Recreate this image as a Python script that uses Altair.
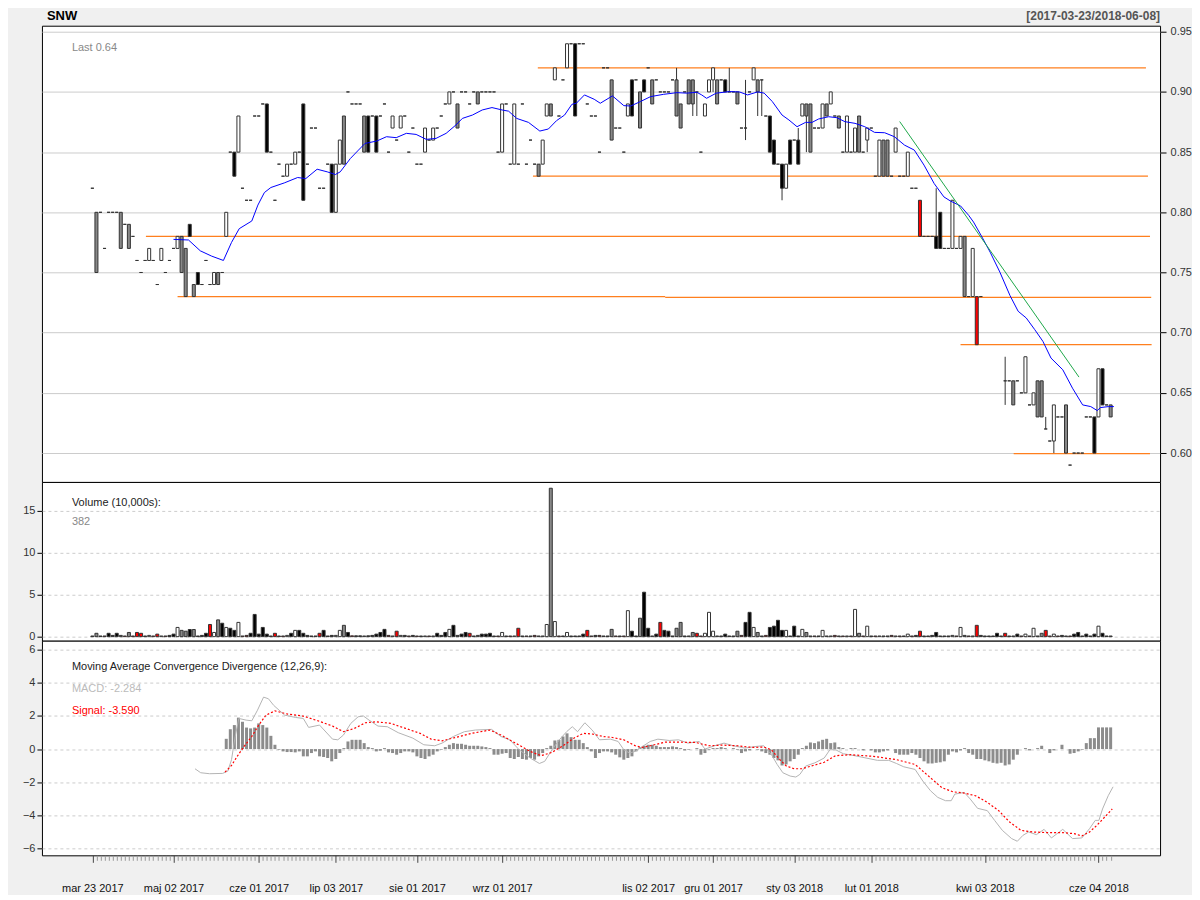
import altair as alt
import pandas as pd

# ---------------- data ----------------
# price bars: scalar = one-price day (O=H=L=C); tuple = (open, high, low, close); None = no price
bars = [
    .82, (.75,.80,.75,.80), .80, .77, .80, .80, .80, (.77,.80,.77,.80), .79, (.77,.79,.77,.79),
    .78, .76, .75, .76, (.76,.77,.76,.77), .76, .74, (.76,.77,.76,.77), .75, .76,
    .77, (.77,.78,.77,.78), (.75,.78,.75,.78), (.73,.77,.73,.77), (.79,.79,.78,.78), (.73,.74,.73,.74), (.75,.75,.74,.74), .74, .76, .74,
    (.74,.75,.74,.75), (.74,.75,.74,.75), .75, (.78,.80,.78,.80), .85, (.85,.85,.83,.83), (.85,.88,.85,.88), .82, .81, .81,
    .88, .88, .89, (.89,.89,.85,.85), .85, .81, .84, .83, (.83,.84,.83,.84), .84,
    (.84,.85,.84,.85), .85, (.89,.89,.81,.81), .84, .87, .87, .82, .82, .84, (.84,.84,.80,.80),
    (.80,.84,.80,.84), (.84,.86,.84,.86), (.84,.88,.84,.88), .90, .89, .89, .89, (.85,.88,.85,.88), (.88,.88,.85,.85), .88,
    (.88,.88,.85,.85), .88, .89, .85, (.87,.88,.87,.88), .86, (.87,.88,.87,.88), .88, .85, .87,
    .84, .84, (.85,.87,.85,.87), .86, (.86,.87,.86,.87), .87, .88, .89, (.89,.90,.89,.90), .90,
    (.87,.89,.87,.89), .90, .90, .89, .90, (.89,.90,.89,.90), .90, .90, .90, .90,
    .85, (.85,.89,.85,.89), .89, .84, (.84,.89,.84,.89), .84, .89, .84, .86, .84,
    (.83,.84,.83,.84), (.84,.86,.84,.86), (.88,.89,.88,.89), (.88,.89,.88,.89), (.91,.92,.91,.92), .88, .91, (.92,.94,.92,.94), .94, (.94,.94,.88,.88),
    .94, .94, .89, .88, .88, .85, .92, .92, (.86,.91,.86,.91), .87,
    .87, .85, (.88,.89,.88,.89), (.91,.91,.88,.88), .91, (.87,.90,.87,.90), (.91,.91,.90,.90), .92, (.89,.91,.89,.91), .91,
    .90, .90, .90, .91, (.88,.92,.88,.91), (.87,.89,.87,.89), .90, (.89,.91,.89,.91), (.89,.91,.88,.91), (.90,.90,.88,.90),
    .85, (.88,.89,.88,.89), (.90,.91,.90,.91), (.91,.92,.90,.92), (.89,.91,.89,.91), .91, (.91,.91,.90,.90), (.90,.92,.90,.90), .90, (.89,.90,.89,.90),
    .87, (.87,.91,.86,.87), .90, (.91,.92,.91,.92), (.90,.91,.88,.91), (.91,.91,.88,.91), .88, (.88,.88,.85,.85), (.86,.86,.84,.84), .84,
    (.84,.84,.81,.82), (.82,.84,.82,.84), (.86,.86,.84,.84), .86, (.86,.87,.84,.84), (.88,.89,.88,.89), (.88,.89,.85,.89), (.85,.89,.85,.89), .87, .87,
    (.87,.89,.87,.89), (.88,.89,.88,.89), (.89,.90,.89,.90), .88, (.87,.88,.87,.88), .85, (.85,.88,.85,.88), .85, (.85,.87,.85,.87), (.85,.88,.85,.88),
    .85, (.86,.87,.85,.87), .87, .83, (.83,.86,.83,.86), (.83,.86,.83,.86), (.83,.86,.83,.86), .83, (.85,.87,.85,.87), .83,
    .83, (.83,.85,.83,.85), .82, .82, (.81,.81,.78,.78), .78, .78, .78, (.78,.82,.77,.77), (.80,.80,.77,.77),
    .77, .77, (.77,.81,.77,.81), .77, (.77,.78,.77,.78), (.73,.78,.73,.78), .73, (.73,.77,.73,.77), (.73,.73,.69,.69), .73,
    None, None, None, None, None, (.66,.68,.64,.66), .66, (.64,.66,.64,.66), .66, .65,
    (.65,.68,.65,.68), .64, (.64,.65,.64,.65), (.63,.66,.63,.66), (.63,.66,.63,.66), (.62,.63,.62,.62), .61, (.61,.64,.60,.64), .63, .63,
    (.60,.64,.60,.64), .59, .60, .60, .60, .63, .63, (.63,.63,.60,.60), (.63,.67,.63,.67), (.67,.67,.64,.64),
    .64, (.63,.64,.63,.64),
]

# volume in 10,000s
volume = [
    .08,.4,.08,.08,.4,.15,.4,.15,.08,.5,
    .08,.5,.4,.08,.15,.08,.3,.08,.08,.15,
    .3,1.1,.75,.65,.85,.85,.08,.15,.4,1.45,
    .5,2.0,1.6,1.1,1.0,.75,1.7,.08,.15,.4,
    2.65,.3,1.1,.3,.08,.4,.08,.08,.15,.4,
    .75,.75,.4,.15,.08,.08,.4,.75,.08,.15,
    .15,.75,1.35,.5,.1,.1,.1,.08,.1,.15,
    .3,.5,.87,.15,.08,.65,.15,.15,.08,.15,
    .08,.08,.08,.08,.08,.4,.15,.5,.87,1.35,
    .15,.3,.5,.4,.08,.15,.3,.3,.4,.08,
    .08,.5,.08,.08,.08,1.0,.08,.08,.08,.15,
    .08,.08,1.45,17.7,1.8,.08,.08,.5,.08,.08,
    .08,.3,.75,.08,.15,.15,.08,.08,.87,.08,
    .08,.08,3.1,.65,.08,2.2,5.3,1.0,.08,.3,
    1.7,.75,.65,.08,1.0,1.7,.08,.08,.5,.4,
    .08,.4,2.9,.65,.08,.08,.3,.08,.08,.65,
    .15,1.7,2.9,1.1,.5,.08,.15,1.1,1.25,1.95,
    .75,.75,.08,1.25,.08,.87,.5,.08,.08,.08,
    .75,.08,.08,.15,.08,.08,.08,.08,3.25,.4,
    .08,1.25,.08,.08,.08,.08,.08,.15,.08,.08,
    .08,.3,.08,.15,.65,.08,.08,.15,.5,.08,
    .08,.08,.15,.08,1.1,.15,.08,.08,1.35,.15,
    .08,.08,.08,.4,.08,.4,.08,.08,.3,.08,
    .3,.08,1.0,.08,.4,.75,.08,.3,.08,.15,
    .08,.08,.3,.5,.08,.3,.08,.3,1.25,.4,
    .08,.08,
]

# 20-day moving average (blue), read as (bar index, value)
sma_pts = [
    (20,0.7775),(23.7,0.777),(26.6,0.768),(29.4,0.7636),(32.3,0.76),(34.3,0.775),(36.2,0.7864),(39.3,0.7928),
    (40.8,0.806),(42.4,0.8164),(44,0.8206),(47.3,0.8244),(50.6,0.8289),(52.6,0.828),(55.4,0.8358),(57.9,0.8336),
    (59.9,0.8314),(61.1,0.8336),(63.6,0.8447),(65.6,0.8517),(67.2,0.8572),(70.1,0.8592),(72.5,0.8628),(74.9,0.862),
    (77.4,0.8656),(79.8,0.8647),(82.3,0.8606),(84.7,0.8614),(87.2,0.8656),(89.6,0.8725),(91.2,0.878),(93.7,0.8808),
    (96.1,0.885),(98.5,0.887),(101,0.885),(102.6,0.884),(104.6,0.878),(107.5,0.8747),(110.3,0.8675),(112.4,0.8692),
    (114.4,0.8761),(116.4,0.8808),(118.2,0.8897),(119.3,0.8906),(121.3,0.8975),(123.7,0.8939),(125.2,0.8906),(128.2,0.8967),
    (131,0.8886),(132.7,0.8883),(135.1,0.892),(137.6,0.8961),(140.8,0.898),(144.1,0.8994),(146.5,0.899),(149,0.8997),
    (150.2,0.8975),(151.4,0.8947),(153.8,0.899),(157.1,0.9003),(159.5,0.9),(161.5,0.8975),(164,0.9),(165.6,0.899),
    (167.6,0.892),(170,0.8808),(171.7,0.8767),(173.7,0.8711),(175.8,0.8747),(177.4,0.8747),(179,0.8775),(181.5,0.8794),
    (183.5,0.8786),(185.5,0.8753),(188,0.8739),(190.4,0.8711),(192.8,0.8664),(195.3,0.8661),(197.7,0.8628),(200.2,0.8558),
    (202.6,0.8517),(205,0.8392),(207.5,0.8239),(209.9,0.8128),(211.5,0.8094),(214,0.8053),(216,0.7975),(217.2,0.7919),
    (219.3,0.7794),(221.3,0.7669),(223.7,0.7503),(226.2,0.7308),(228.2,0.7178),(230.2,0.7122),(232.3,0.7025),(234.3,0.6928),
    (236.3,0.6789),(239.2,0.6692),(241.6,0.6539),(244.1,0.64),(246.1,0.6386),(247.7,0.6353),(248.5,0.6378),(250.5,0.6386),
    (251.8,0.6386),
]

# MACD line (grey) and signal (red dotted), read as (bar index, value)
macd_pts = [
    (25.3,-1.19),(26.7,-1.43),(28.9,-1.49),(32.1,-1.47),(33.4,-1.33),(34.3,-0.64),(35.2,0.76),(36.1,1.85),(37.9,1.75),
    (39.3,1.71),(40.7,2.35),(42.2,3.14),(43.4,3.04),(44.7,2.64),(47.4,2.05),(50.1,1.91),(52,1.85),(53.3,1.31),(56,1.45),
    (59.2,0.6),(60.5,0.56),(61.9,0.85),(63.7,1.55),(65.5,1.95),(66.8,2.0),(68.2,1.75),(70.4,1.39),(72.7,1.35),(75.4,0.99),
    (79,0.66),(81.7,0.26),(84.4,0.2),(86.2,0.36),(89,0.76),(91.7,1.05),(94.4,1.15),(98.4,1.19),(100.7,0.76),(102.9,0.56),
    (105.2,-0.04),(107.9,-0.54),(110.2,-0.87),(111.5,-0.74),(113.3,-0.04),(115.1,0.56),(116.9,1.05),(118.3,1.35),(119.6,1.05),
    (121.4,1.59),(123.2,1.15),(125,0.56),(127.7,0.6),(129.6,0.46),(131,-0.04),(132.4,-0.24),(133.8,-0.14),(135.6,0.16),
    (137.5,0.46),(139.4,0.6),(142.2,0.52),(144.5,0.56),(146.8,0.36),(149.6,0.46),(151,0),(153.4,0.2),(155.7,0.36),(158,0.2),
    (160.8,0.06),(163.6,0.16),(165.5,0.2),(167.4,-0.34),(168.8,-0.93),(170.2,-1.43),(172,-1.63),(173.4,-1.69),(174.4,-1.53),
    (175.8,-1.03),(178.1,-0.83),(180.4,-0.54),(181.8,-0.04),(183.2,-0.04),(185.1,-0.28),(187.9,-0.4),(190.7,-0.54),
    (193.5,-0.68),(196.3,-0.68),(198.2,-0.87),(200,-1.07),(202.8,-1.23),(204.7,-1.93),(206.6,-2.52),(208.4,-2.92),
    (210.3,-3.12),(211.7,-3.12),(212.6,-2.72),(214.9,-2.62),(216.4,-3.02),(218.2,-3.58),(220.6,-3.72),(222.4,-4.31),
    (224.3,-4.91),(226.6,-5.41),(228,-5.57),(229.4,-5.21),(230.8,-5.01),(232.7,-5.17),(234.6,-4.85),(236.4,-5.37),
    (239.2,-4.85),(241.6,-5.41),(243.9,-5.37),(245.8,-4.81),(247.2,-4.31),(248.1,-4.31),(249,-3.62),(250.4,-2.82),(251.6,-2.28),
]
signal_pts = [
    (32.7,-1.39),(34.3,-0.99),(35.7,-0.44),(37.4,0.16),(39.3,0.76),(41,1.45),(42.8,2.05),(45,2.31),(48.2,2.11),(52,1.99),
    (55.6,1.71),(59.2,1.39),(61.9,1.05),(64.6,1.25),(67.3,1.59),(70,1.65),(73.6,1.55),(77.2,1.25),(80.8,0.95),(83.5,0.6),
    (86.2,0.5),(89.8,0.72),(93.5,0.95),(98,1.15),(100.7,0.85),(104.3,0.36),(107.9,-0.14),(110.6,-0.4),(113.3,-0.2),(116,0.2),
    (118.7,0.66),(121,0.95),(123.2,0.91),(125.9,0.76),(128.2,0.70),(131,0.56),(133.8,0.2),(135.6,0.1),(137.5,0.2),(141.2,0.42),
    (144,0.42),(148.7,0.4),(152,0.2),(155.2,0.24),(159,0.2),(162.7,0.1),(165.5,0.12),(167.4,-0.04),(169.3,-0.6),(171.1,-1.03),
    (173,-1.19),(174.9,-1.19),(177.7,-0.99),(180.4,-0.8),(183.2,-0.4),(186.9,-0.34),(192.5,-0.44),(198.2,-0.64),(202.8,-0.93),
    (204.7,-1.33),(207.5,-1.93),(209.4,-2.33),(212.1,-2.58),(214.9,-2.66),(217.7,-2.82),(220.6,-3.22),(223.4,-3.72),
    (226.1,-4.41),(228.9,-4.91),(231.8,-5.01),(235.5,-5.05),(239.2,-5.05),(242,-5.11),(243.9,-5.25),(245.8,-5.01),
    (247.6,-4.61),(249.5,-4.12),(251.4,-3.62),
]

# MACD histogram, one value per bar starting at bar 33
hist_start = 33
hist = [
    .62,1.2,1.45,1.9,1.65,1.3,1.25,1.3,1.55,1.45,
    1.3,.8,.26,-.04,-.14,-.18,-.18,-.2,-.14,-.44,
    -.44,-.24,-.14,-.44,-.48,-.54,-.74,-.6,-.24,.06,
    .46,.56,.56,.56,.36,.12,.06,-.14,-.1,.06,
    -.2,-.24,-.34,-.24,-.14,-.14,-.2,-.44,-.54,-.6,
    -.44,-.34,-.14,-.04,.12,.26,.36,.32,.32,.26,
    .2,.2,.2,.16,.12,.06,-.34,-.34,-.28,-.24,
    -.54,-.6,-.48,-.6,-.64,-.54,-.64,-.44,-.24,.06,
    .2,.52,.56,.76,.95,.72,.56,.56,.36,.12,
    -.14,-.54,-.24,-.14,-.14,-.2,-.34,-.5,-.64,-.54,
    -.44,-.14,.12,.2,.26,.26,.2,.12,.12,.12,
    .16,.12,.06,-.08,-.04,0,.06,-.34,-.24,-.04,
    .06,.06,.12,.06,0,.06,-.04,-.24,-.14,-.08,
    0,-.04,-.14,-.24,-.34,-.54,-.68,-.99,-.93,-.74,
    -.6,-.34,.06,.2,.4,.36,.46,.56,.62,.36,
    .4,.12,.06,0,.06,.06,0,-.08,0,-.08,
    -.2,-.2,-.14,-.08,0,-.24,-.34,-.34,-.34,-.24,
    -.34,-.54,-.74,-.87,-.87,-.83,-.8,-.74,-.34,-.14,
    -.2,-.08,.06,-.24,-.34,-.6,-.6,-.68,-.74,-.83,
    -.87,-.83,-.99,-.93,-.64,-.34,0,.06,-.08,0,
    .06,.2,0,-.24,-.08,0,.26,0,-.28,-.24,
    -.14,-.04,.36,.66,.66,1.31,1.31,1.31,1.31,
]

# horizontal support / resistance lines: (price, from bar, to bar)
levels = [(0.78, 13.2, 260.7), (0.73, 21.0, 141.2), (0.7293, 141.2, 261.0), (0.83, 108.6, 260.2),
          (0.92, 109.8, 259.7), (0.69, 214.0, 261.1), (0.5995, 227.1, 260.7)]
# green trend line end points: (bar, price)
trend = [(199.0, 0.8754), (243.2, 0.6631)]

label_idx = [0, 20, 41, 60, 80, 101, 137, 153, 173, 192, 220, 248]
label_txt = ['mar 23 2017', 'maj 02 2017', 'cze 01 2017', 'lip 03 2017', 'sie 01 2017', 'wrz 01 2017',
             'lis 02 2017', 'gru 01 2017', 'sty 03 2018', 'lut 01 2018', 'kwi 03 2018', 'cze 04 2018']

price_ticks = [0.60, 0.65, 0.70, 0.75, 0.80, 0.85, 0.90, 0.95]
vol_ticks = [0, 5, 10, 15]
macd_ticks = [-6, -4, -2, 0, 2, 4, 6]

# ---------------- tables ----------------
rows = []
prev_close = None
for i, b in enumerate(bars):
    if b is None:
        rows.append(dict(i=i, o=None, h=None, l=None, c=None, lo=None, hi=None, col='k', v=volume[i], z=0))
        continue
    o, h, l, c = (b, b, b, b) if isinstance(b, float) else b
    pc = o if prev_close is None else prev_close
    if c > o:
        col = 'g' if o < pc else 'w'
    else:
        col = 'r' if o < pc else 'k'
    prev_close = c
    rows.append(dict(i=i, o=o, h=h, l=l, c=c, lo=min(o, c), hi=max(o, c), col=col, v=volume[i], z=0))
df = pd.DataFrame(rows)

sma_df = pd.DataFrame(sma_pts, columns=['i', 'val'])
macd_df = pd.DataFrame(macd_pts, columns=['i', 'val'])
sig_df = pd.DataFrame(signal_pts, columns=['i', 'val'])
hist_df = pd.DataFrame({'i': list(range(hist_start, hist_start + len(hist))), 'val': hist, 'z': 0})
lev_df = pd.DataFrame(levels, columns=['lvl', 'x0', 'x1'])
trend_df = pd.DataFrame(trend, columns=['i', 'val'])

FONT = 'Liberation Sans'
xs = alt.Scale(domain=[-11.2, 261.95], nice=False, zero=False)
fill_scale = alt.Scale(domain=['w', 'g', 'k', 'r'], range=['#FFFFFF', '#888888', '#000000', '#FF0000'])

def X(field='i'):
    return alt.X(f'{field}:Q', scale=xs, axis=None, title=None)

# ---------------- price panel ----------------
ps = alt.Scale(domain=[0.576, 0.955], nice=False, zero=False)
p_axis = alt.Axis(orient='right', values=price_ticks, format='.2f', grid=True, gridColor='#CCCCCC',
                  domain=False, tickSize=6, tickColor='#000000', labelPadding=4, labelFontSize=11,
                  labelColor='#333333', labelFont=FONT, title=None)

def PY(field):
    return alt.Y(f'{field}:Q', scale=ps, axis=p_axis, title=None)

def text_layer(t, x, y, color, size=11, weight='normal', align='left'):
    return alt.Chart(pd.DataFrame({'t': [t]})).mark_text(
        align=align, baseline='middle', fontSize=size, fontWeight=weight, color=color, font=FONT
    ).encode(x=alt.value(x), y=alt.value(y), text='t:N')

wick = alt.Chart(df).mark_rule(color='#333333', strokeWidth=1).encode(x=X(), y=PY('l'), y2='h:Q')
body = alt.Chart(df).mark_bar(size=3, stroke='#333333', strokeWidth=1).encode(
    x=X(), y=PY('lo'), y2='hi:Q', fill=alt.Fill('col:N', scale=fill_scale, legend=None))
sma = alt.Chart(sma_df).mark_line(color='#0000FF', strokeWidth=1).encode(x=X(), y=PY('val'))
lev = alt.Chart(lev_df).mark_rule(color='#FF7F1E', strokeWidth=1.2).encode(x=X('x0'), x2='x1:Q', y=PY('lvl'))
trd = alt.Chart(trend_df).mark_line(color='#1FA84A', strokeWidth=1).encode(x=X(), y=PY('val'))

price = alt.layer(
    lev, wick, body, sma, trd,
    text_layer('Last 0.64', 30, 22, '#888888'),
    text_layer('SNW', 5, -10, '#000000', size=13, weight='bold'),
    text_layer('[2017-03-23/2018-06-08]', 1120, -10, '#555555', size=12, weight='bold', align='right'),
).properties(width=1120, height=457)

# ---------------- volume panel ----------------
vs = alt.Scale(domain=[-0.48, 18.45], nice=False, zero=False)
v_axis = alt.Axis(orient='left', values=vol_ticks, grid=True, gridColor='#CCCCCC', gridDash=[3, 3],
                  domain=False, tickSize=5, tickColor='#000000', labelPadding=2, labelFontSize=11,
                  labelColor='#333333', labelFont=FONT, title=None)
vbars = alt.Chart(df).mark_bar(size=3, stroke='#333333', strokeWidth=1).encode(
    x=X(), y=alt.Y('v:Q', scale=vs, axis=v_axis, title=None), y2='z:Q',
    fill=alt.Fill('col:N', scale=fill_scale, legend=None))
vol = alt.layer(
    vbars,
    text_layer('Volume (10,000s):', 30, 21, '#222222'),
    text_layer('382', 30, 40, '#888888'),
).properties(width=1120, height=159)

# ---------------- MACD panel ----------------
ms = alt.Scale(domain=[-6.42, 6.55], nice=False, zero=False)
m_axis = alt.Axis(orient='left', values=macd_ticks, grid=True, gridColor='#CCCCCC', gridDash=[3, 3],
                  domain=False, tickSize=5, tickColor='#000000', labelPadding=2, labelFontSize=11,
                  labelColor='#333333', labelFont=FONT, title=None)
label_expr = ' : '.join(f"datum.value == {k} ? '{t}'" for k, t in zip(label_idx, label_txt)) + " : ''"
major_test = 'indexof([' + ','.join(str(k) for k in label_idx) + '], datum.value) >= 0'
x_axis = alt.Axis(values=list(range(len(bars))), labelExpr=label_expr, labelOverlap=False, labelFlush=False,
                  tickSize={'condition': {'test': major_test, 'value': 7}, 'value': 5},
                  tickColor={'condition': {'test': major_test, 'value': '#444444'}, 'value': '#999999'},
                  grid=False, domain=False, labelPadding=20, labelFontSize=11, labelColor='#111111',
                  labelFont=FONT, title=None)
hbars = alt.Chart(hist_df).mark_bar(size=3, color='#8C8C8C').encode(
    x=alt.X('i:Q', scale=xs, axis=x_axis, title=None), y=alt.Y('val:Q', scale=ms, axis=m_axis, title=None), y2='z:Q')
mline = alt.Chart(macd_df).mark_line(color='#B4B4B4', strokeWidth=1).encode(
    x=alt.X('i:Q', scale=xs, axis=x_axis, title=None), y=alt.Y('val:Q', scale=ms, axis=m_axis, title=None))
sline = alt.Chart(sig_df).mark_line(color='#FF0000', strokeWidth=1.2, strokeDash=[2, 2]).encode(
    x=alt.X('i:Q', scale=xs, axis=x_axis, title=None), y=alt.Y('val:Q', scale=ms, axis=m_axis, title=None))
macd = alt.layer(
    hbars, mline, sline,
    text_layer('Moving Average Convergence Divergence (12,26,9):', 30, 26, '#222222'),
    text_layer('MACD: -2.284', 30, 48, '#BBBBBB'),
    text_layer('Signal: -3.590', 30, 70, '#FF0000'),
).properties(width=1120, height=215)

chart = alt.vconcat(price, vol, macd, spacing=0, bounds='flush').properties(
    background='#F0F0F0', padding={'left': 13, 'top': 0, 'right': 0, 'bottom': 0}
).configure_view(stroke='#000000', strokeWidth=1, fill='#FFFFFF')

chart.save('out.html', embed_options={'renderer': 'svg', 'actions': False})
